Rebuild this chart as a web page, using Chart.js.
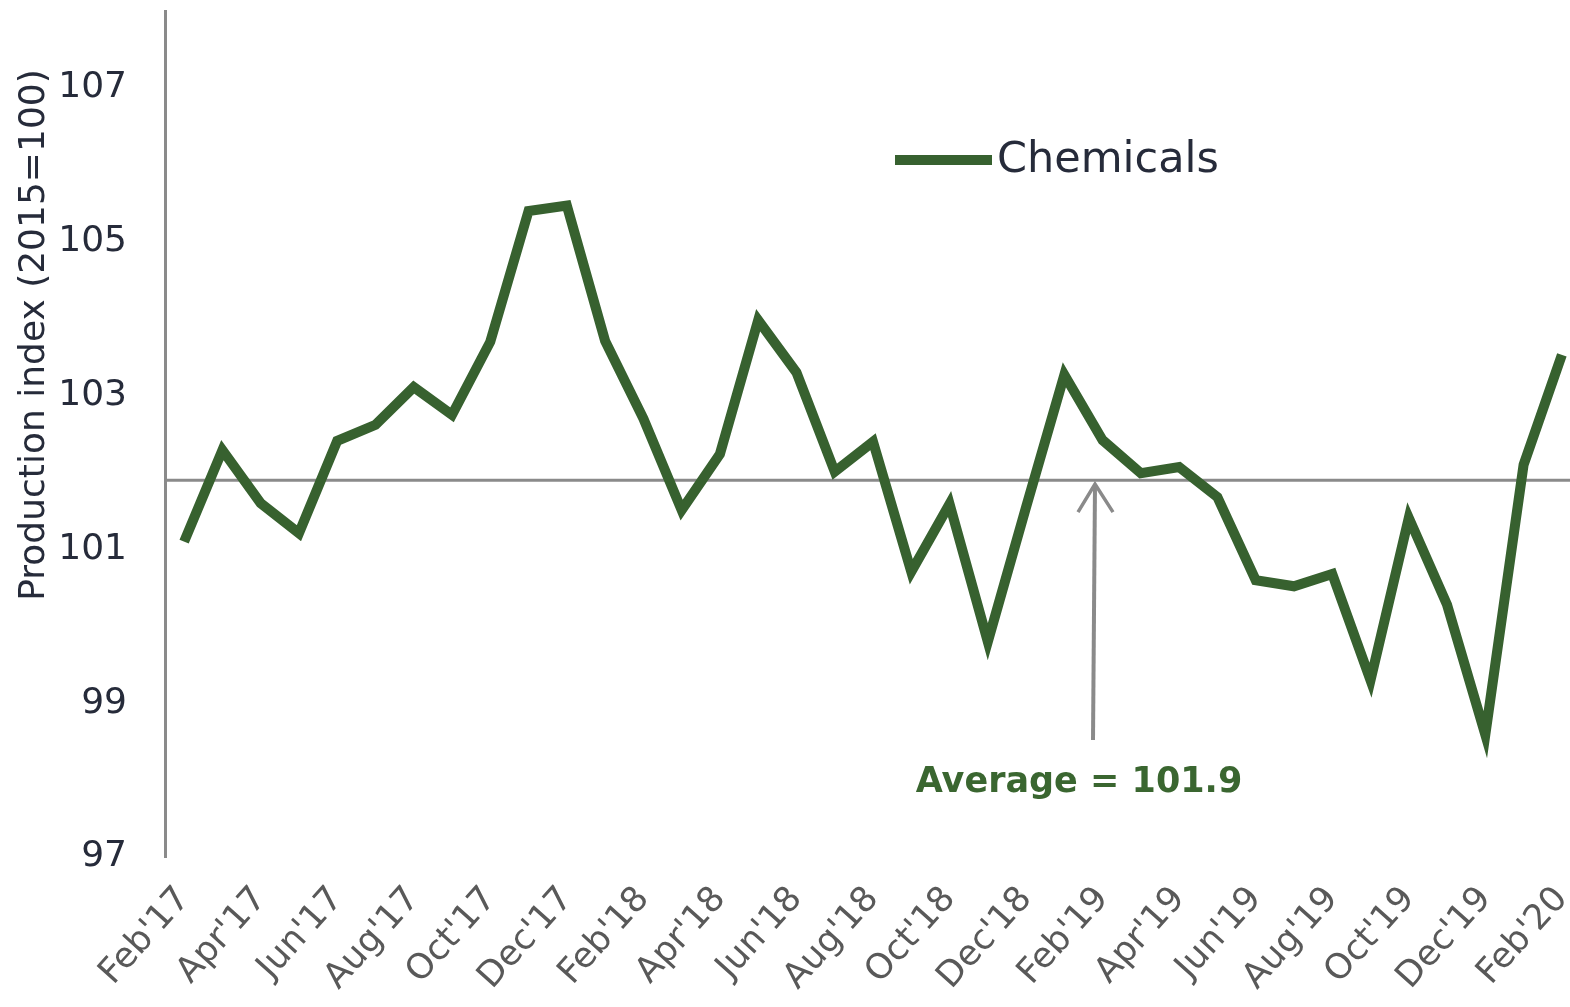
<!DOCTYPE html>
<html>
<head>
<meta charset="utf-8">
<script src="https://cdn.jsdelivr.net/npm/chart.js@4.4.0/dist/chart.umd.min.js"></script>
<style>
  html, body { margin: 0; padding: 0; background: #fff; overflow: hidden; }
  #wrap { width: 1581px; height: 1007px; }
</style>
</head>
<body>
<div id="wrap"><canvas id="myChart" width="1581" height="1007"></canvas></div>
<script>
var months = ["Feb'17", "Mar'17", "Apr'17", "May'17", "Jun'17", "Jul'17", "Aug'17", "Sep'17", "Oct'17", "Nov'17", "Dec'17", "Jan'18",
              "Feb'18", "Mar'18", "Apr'18", "May'18", "Jun'18", "Jul'18", "Aug'18", "Sep'18", "Oct'18", "Nov'18", "Dec'18", "Jan'19",
              "Feb'19", "Mar'19", "Apr'19", "May'19", "Jun'19", "Jul'19", "Aug'19", "Sep'19", "Oct'19", "Nov'19", "Dec'19", "Jan'20",
              "Feb'20"];
var chemicals = [101.10, 102.29, 101.60, 101.21, 102.41, 102.62, 103.11, 102.75, 103.70, 105.40, 105.47, 103.71,
                 102.70, 101.51, 102.24, 103.98, 103.30, 102.01, 102.40, 100.71, 101.59, 99.80, 101.55, 103.27,
                 102.42, 101.99, 102.07, 101.68, 100.60, 100.52, 100.68, 99.30, 101.41, 100.28, 98.59, 102.10,
                 103.53];
var average = 101.9;
var yTicks = [97, 99, 101, 103, 105, 107];

var green = '#37612f';
var grey = '#8a8a8a';
var textDark = '#262b3a';

// no extra room for overhanging labels, the chart area is fixed
function noPadding(scale) {
    scale.paddingLeft = 0;
    scale.paddingRight = 0;
    scale.paddingTop = 0;
    scale.paddingBottom = 0;
}

// average line, arrow, note, legend and y title
var extras = {
    id: 'extras',
    beforeDatasetsDraw: function(chart) {
        var ctx = chart.ctx, area = chart.chartArea;
        var y = chart.scales.y.getPixelForValue(average);
        ctx.save();
        ctx.strokeStyle = grey;
        ctx.lineWidth = 3;
        ctx.beginPath();
        ctx.moveTo(area.left, y);
        ctx.lineTo(area.right, y);
        ctx.stroke();
        ctx.restore();
    },
    afterDraw: function(chart) {
        var ctx = chart.ctx;
        var yAvg = chart.scales.y.getPixelForValue(average);

        // arrow
        ctx.save();
        ctx.strokeStyle = grey;
        ctx.lineWidth = 4;
        ctx.beginPath();
        ctx.moveTo(1093, 740);
        ctx.lineTo(1095, yAvg + 4);
        ctx.stroke();
        ctx.lineWidth = 3.5;
        ctx.beginPath();
        ctx.moveTo(1078, yAvg + 32);
        ctx.lineTo(1095, yAvg + 4);
        ctx.lineTo(1113, yAvg + 32);
        ctx.stroke();

        ctx.fillStyle = '#3a6630';
        ctx.font = 'bold 35px "DejaVu Sans"';
        ctx.textAlign = 'center';
        ctx.textBaseline = 'middle';
        ctx.fillText('Average = ' + average, 1079, 783);

        // legend
        ctx.strokeStyle = green;
        ctx.lineWidth = 10;
        ctx.beginPath();
        ctx.moveTo(895, 160);
        ctx.lineTo(992, 160);
        ctx.stroke();
        ctx.fillStyle = textDark;
        ctx.font = '43px "DejaVu Sans"';
        ctx.textAlign = 'left';
        ctx.fillText(chart.data.datasets[0].label, 997, 161);

        // y axis title
        ctx.translate(35, 335);
        ctx.rotate(-Math.PI / 2);
        ctx.textAlign = 'center';
        ctx.font = '36px "DejaVu Sans"';
        ctx.fillText('Production index (2015=100)', 0, 0);
        ctx.restore();
    }
};

var ctx = document.getElementById('myChart').getContext('2d');
var myChart = new Chart(ctx, {
    type: 'line',
    data: {
        labels: months,
        datasets: [{
            label: 'Chemicals',
            data: chemicals,
            borderColor: green,
            backgroundColor: green,
            borderWidth: 10,
            pointRadius: 0,
            tension: 0,
            fill: false
        }]
    },
    options: {
        responsive: false,
        animation: false,
        layout: { padding: { top: 11, left: 0, right: 0, bottom: 0 } },
        plugins: {
            legend: { display: false },
            tooltip: { enabled: false }
        },
        scales: {
            x: {
                offset: true,
                grid: { display: false },
                border: { display: false },
                afterFit: function(scale) {
                    scale.height = 150;
                    noPadding(scale);
                },
                ticks: {
                    autoSkip: false,
                    minRotation: 48,
                    maxRotation: 48,
                    padding: 14,
                    color: '#595959',
                    font: { family: 'DejaVu Sans', size: 35 },
                    callback: function(val, i) {
                        return i % 2 === 0 ? this.getLabelForValue(val) : '';
                    }
                }
            },
            y: {
                min: 97,
                max: 108,
                grid: { display: false, drawTicks: false },
                border: { display: true, color: grey, width: 3 },
                afterFit: function(scale) {
                    scale.width = 165;
                    noPadding(scale);
                },
                afterBuildTicks: function(scale) {
                    scale.ticks = yTicks.map(function(v) { return { value: v }; });
                },
                ticks: {
                    padding: 38,
                    color: textDark,
                    font: { family: 'DejaVu Sans', size: 36 }
                }
            }
        }
    },
    plugins: [extras]
});
</script>
</body>
</html>
